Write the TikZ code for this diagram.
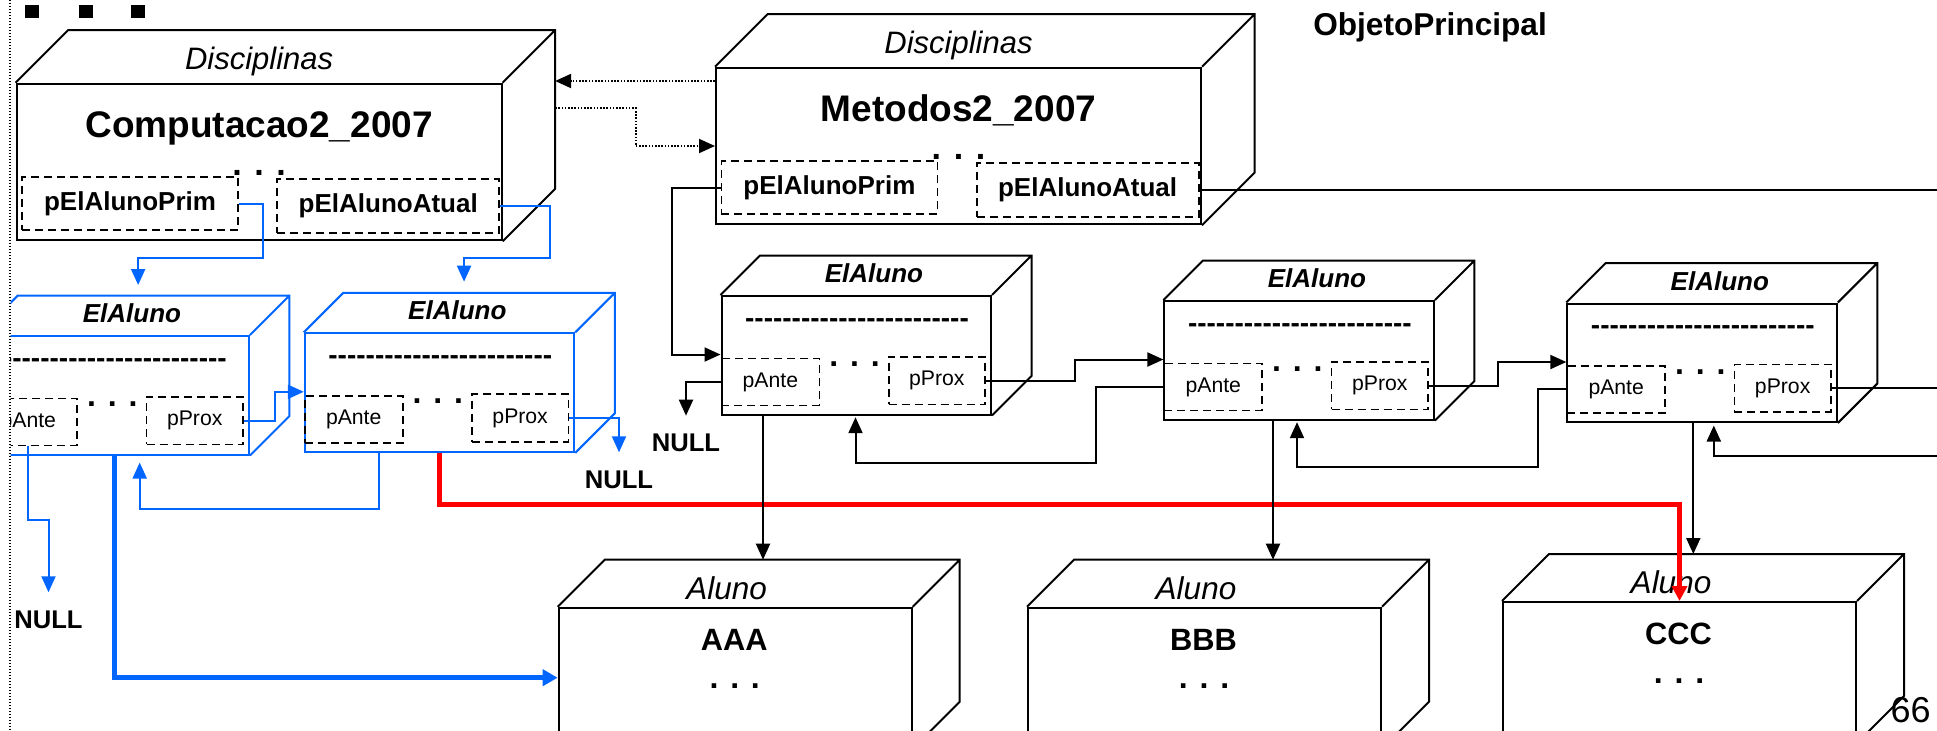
\documentclass[tikz,border=0pt]{standalone}
\usepackage{fontspec}
\setmainfont{Liberation Sans}
\usepackage{tikz}
\usetikzlibrary{calc,arrows.meta}
\definecolor{linkblue}{RGB}{0,102,255}
\definecolor{linkred}{RGB}{255,0,0}
\newcommand{\fsz}[1]{\fontsize{#1pt}{#1pt}\selectfont}
\newcommand{\hyphenrow}{\foreach\k in {1,...,24}{-}}
% top and side faces behind a front node
\newcommand{\cubedepth}[3]{%
  \draw[#3, boxline] (#1.north west) -- ++(#2,-#2) coordinate (#1-bnw)
    -- ($(#1.north east)+(#2,-#2)$) coordinate (#1-bne)
    -- ($(#1.south east)+(#2,-#2)$) coordinate (#1-bse)
    -- (#1.south east) (#1.north east) -- (#1-bne);}
\newcommand{\disciplina}[4]{%
  \node[dbox] (#1) at (#2,#3) {};
  \cubedepth{#1}{52.5}{black}
  \node[font=\fsz{15.5}\itshape, anchor=base] (#1-cls) at ($(#1.north)+(0,-13.5)$) {Disciplinas};
  \node[font=\fsz{18.5}\bfseries, anchor=base] (#1-name) at ($(#1.north)+(0,54.3)$) {#4};
  \node[dotsnode, font=\fsz{17}\bfseries] (#1-dots) at ($(#1.north)+(0,92.5)$) {. . .};
  \node[ptrbox, font=\fsz{13}\bfseries, minimum width=108pt, minimum height=26.7pt, anchor=north west]
    (#1-prim) at ($(#1.north west)+(5.5,93.3)$) {pElAlunoPrim};
  \node[ptrbox, font=\fsz{13}\bfseries, minimum width=111pt, minimum height=27pt, anchor=north east]
    (#1-atual) at ($(#1.north east)+(-2.5,95.3)$) {pElAlunoAtual};}
\newcommand{\elaluno}[4]{%
  \node[ebox, draw=#4] (#1) at (#2,#3) {};
  \cubedepth{#1}{39.5}{#4}
  \node[font=\fsz{13}\bfseries\itshape, anchor=base] (#1-cls) at ($(#1.north)+(17.75,-12.5)$) {ElAluno};
  \node[font=\fsz{14}\bfseries, inner sep=0pt] (#1-attr) at ($(#1.north)+(0.75,28)$) {\hyphenrow};
  \node[dotsnode] (#1-dots) at ($(#1.north west)+(134,71.5)$) {. . .};
  \node[ptrbox, font=\fsz{10.6}, minimum width=49pt, minimum height=23.5pt, anchor=north west]
    (#1-ante) at ($(#1.north west)+(0,62.5)$) {pAnte};
  \node[ptrbox, font=\fsz{10.6}, minimum width=48.25pt, minimum height=23.75pt, anchor=north east]
    (#1-prox) at ($(#1.north east)+(-6,61)$) {pProx};}
\newcommand{\aluno}[4]{%
  \node[abox] (#1) at (#2,#3) {};
  \cubedepth{#1}{47}{black}
  \node[font=\fsz{15.75}\itshape, anchor=base] (#1-cls) at ($(#1.north)+(-8.5,-7.4)$) {Aluno};
  \node[font=\fsz{15.4}\bfseries, anchor=base] (#1-name) at ($(#1.north)+(-1,43.3)$) {#4};
  \node[dotsnode] (#1-dots) at ($(#1.north)+(-0.5,82)$) {. . .};}

\begin{document}
\begin{tikzpicture}[
    x=0.5pt, y=-0.5pt,
    boxline/.style={line width=1pt},
    dbox/.style={draw, boxline, anchor=north west, inner sep=0pt,
      minimum width=242.5pt, minimum height=78.3pt},
    ebox/.style={dbox, minimum width=134.75pt, minimum height=59.25pt},
    abox/.style={dbox, minimum width=176.5pt, minimum height=70pt},
    ptrbox/.style={draw, line width=0.9pt, dash pattern=on 4pt off 2.5pt, inner sep=0pt},
    dotsnode/.style={font=\fsz{16}\bfseries, anchor=base, inner sep=0pt},
    nullnode/.style={font=\fsz{12.8}\bfseries, anchor=base, inner xsep=0pt, inner ysep=9pt},
    link/.style={line width=1pt, -{Triangle[length=8pt,width=7pt]}},
    bluelink/.style={link, draw=linkblue},
    fatblue/.style={draw=linkblue, line width=2.5pt, -{Triangle[length=7.5pt,width=8pt]}},
    redlink/.style={draw=linkred, line width=2.5pt, -{Triangle[length=7.5pt,width=7.5pt]}},
    dotlink/.style={link, dash pattern=on 0.8pt off 0.8pt},
  ]
  \useasboundingbox (0,0) rectangle (1937,730);
  \draw[line width=0.6pt, dash pattern=on 0.6pt off 0.9pt] (10,0) -- (10,730);
  \begin{scope}
    \clip (10.5,0) rectangle (1937,730);
    \coordinate (rim) at (1937,0);
    \foreach \sx in {25,79,131} \fill (\sx,5) rectangle ++(14,13);
    \node[font=\fsz{15.8}\bfseries, anchor=base] (objprinc) at (1430,35.5) {ObjetoPrincipal};

    % disciplinas
    \disciplina{comp}{15.6}{82.7}{Computacao2\_2007}
    \disciplina{metod}{715}{66.7}{Metodos2\_2007}

    % elementos da lista
    \elaluno{e1}{-21.6}{335}{linkblue}
    \elaluno{e2}{303.8}{332.3}{linkblue}
    \elaluno{e3}{720.5}{295}{black}
    \elaluno{e4}{1163.4}{300}{black}
    \elaluno{e5}{1566.3}{302.5}{black}

    % alunos
    \aluno{aaa}{557.7}{606.7}{AAA}
    \aluno{bbb}{1027}{606.7}{BBB}
    \aluno{ccc}{1502}{601}{CCC}

    \node[nullnode] (null1) at (48.5,628.3) {NULL};
    \node[nullnode] (null2) at (619,488.3) {NULL};
    \node[nullnode] (null3) at (686,451.7) {NULL};
    \node[font=\fsz{18}, anchor=base] (pagenum) at (1910.5,722) {66};

    % ligacoes entre disciplinas
    \draw[dotlink] ($(metod.north west)+(0,14.3)$) coordinate (dl) -- (dl -| comp-bne);
    \draw[dotlink] ($(comp-bne)+(0,78)$) -- ++(80.5,0) |- (metod.west);

    % lista de Computacao2_2007
    \draw[bluelink] (comp-prim.east) -- ++(24.5,0) -- ++(0,54.6) -| ($(e1.north)+(24,-50)$);
    \draw[bluelink] (comp-atual.east) -- ++(49.7,0) -- ++(0,52.3) -| ($(e2.north)+(24.5,-50.6)$);
    \draw[bluelink] (e1-prox.east) -- ++(31,0) |- ([yshift=1.5pt]e2-ante.north west);
    \draw[bluelink] ($(e2.south west)+(75.6,0)$) -- ++(0,55.7) -| ($(e1.south west)+(161.3,7)$);
    \draw[bluelink] (e2-prox.east) -| (null2.north);
    \draw[bluelink] (e1-ante.south) -- ++(0,74) -| (null1.north);
    \draw[fatblue] (e1.south) |- (aaa.west);
    \draw[redlink] (e2.south) -- ++(0,51.3) -| (ccc.north);

    % lista de Metodos2_2007
    \draw[link] (metod-prim.west) -- ++(-49,0) |- ([yshift=1.5pt]e3-ante.north west);
    \draw[link] (e3-ante.west) -| (null3.north);
    \draw[link] (e3-prox.east) -- ++(89,0) |- ([yshift=1.5pt]e4-ante.north west);
    \draw[link] (e4-prox.east) -- ++(69.4,0) |- ([yshift=1.5pt]e5-ante.north west);
    \draw[link] (e4-ante.west) -- ++(-67,0) -- ++(0,75.7) -| ($(e3.south west)+(135,1.7)$);
    \draw[link] (e5-ante.west) -- ++(-28.6,0) -- ++(0,77.3) -| ($(e4.south west)+(133.6,1.7)$);
    \coordinate (e5-back) at (1937,456);
    \draw[link] (e5-back) -| ($(e5.south west)+(147.5,2.5)$);
    \draw[line width=1pt] (e5-prox.east) -- (e5-prox.east -| rim);
    \draw[line width=1pt] (metod-atual.east) -- (metod-atual.east -| rim);
    \draw[link] ($(e3.south west)+(42.5,0)$) coordinate (d3) -- (d3 |- aaa-bnw);
    \draw[link] ($(e4.south west)+(109.6,0)$) coordinate (d4) -- (d4 |- bbb-bnw);
    \draw[link] ($(e5.south west)+(127,0)$) coordinate (d5) -- (d5 |- ccc-bnw);
  \end{scope}
\end{tikzpicture}
\end{document}
